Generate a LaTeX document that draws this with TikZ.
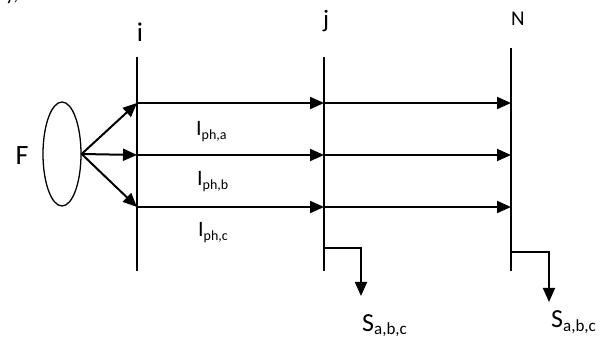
\documentclass[tikz,border=0pt]{standalone}
\usepackage{fontspec}
\setmainfont{Carlito}
\usetikzlibrary{arrows.meta,shapes.geometric}

% text with a lowered, smaller index
\newcommand{\idxlabel}[4]{{\fontsize{#3}{#3}\selectfont #1}{\fontsize{#4}{#4}\selectfont\raisebox{-0.22em}{#2}}}

\tikzset{
  bus/.style={line width=1.6pt},
  feeder/.style={line width=2pt, -{Triangle[length=14pt,width=12pt]}},
  loadline/.style={line width=1.8pt, -{Triangle[length=14pt,width=12pt]}},
  lbl/.style={inner sep=0pt, anchor=base}
}

\begin{document}
\begin{tikzpicture}[x=1pt,y=-1pt]
  \useasboundingbox (0,0) rectangle (603,339);

  % lower edge of the preceding line of text
  \node[lbl] (rem) at (12,1) {\fontsize{20}{20}\selectfont y,};

  % bus bars
  \coordinate (iTop) at (137,57);  \coordinate (iBot) at (137,271);
  \coordinate (jTop) at (324,57);  \coordinate (jBot) at (324,271);
  \coordinate (nTop) at (511,48);  \coordinate (nBot) at (511,271);
  \draw[bus] (iTop) -- (iBot);
  \draw[bus] (jTop) -- (jBot);
  \draw[bus] (nTop) -- (nBot);

  % bus names
  \node[lbl] (iName) at (140,42) {\fontsize{27}{27}\selectfont i};
  \node[lbl] (jName) at (326,28) {\fontsize{25}{25}\selectfont j};
  \node[lbl] (nName) at (518,26) {\fontsize{21}{21}\selectfont N};

  % source
  \node[draw, line width=1.3pt, ellipse, minimum width=38pt, minimum height=104pt, inner sep=0pt] (src) at (62,154) {};
  \node[lbl] (fName) at (22,165) {\fontsize{28}{28}\selectfont F};

  % junctions on the buses
  \coordinate (ia) at (137,103); \coordinate (ib) at (137,155); \coordinate (ic) at (137,207);
  \coordinate (ja) at (324,103); \coordinate (jb) at (324,155); \coordinate (jc) at (324,207);
  \coordinate (na) at (511,103); \coordinate (nb) at (511,155); \coordinate (nc) at (511,207);

  % source to bus i
  \draw[feeder] (src.east) -- (ia);
  \draw[feeder] (src.east) -- (ib);
  \draw[feeder] (src.east) -- (ic);

  % phase flows i -> j -> N
  \foreach \p in {a,b,c}{
    \draw[feeder] (i\p) -- (j\p);
    \draw[feeder] (j\p) -- (n\p);
  }

  % phase current labels
  \node[lbl, anchor=base west] (Ia) at (196,136) {\idxlabel{I}{ph,a}{22}{14}};
  \node[lbl, anchor=base west] (Ib) at (197,186) {\idxlabel{I}{ph,b}{22}{14}};
  \node[lbl, anchor=base west] (Ic) at (198,237) {\idxlabel{I}{ph,c}{22}{14}};

  % loads
  \coordinate (jTap) at (324,248); \coordinate (jCorner) at (361,248); \coordinate (jLoad) at (361,296);
  \coordinate (nTap) at (511,252); \coordinate (nCorner) at (549,252); \coordinate (nLoad) at (549,302);
  \draw[loadline] (jTap) -- (jCorner) -- (jLoad);
  \draw[loadline] (nTap) -- (nCorner) -- (nLoad);

  \node[lbl, anchor=base west] (Sj) at (362,331) {\idxlabel{S}{a,b,c}{26}{17}};
  \node[lbl, anchor=base west] (Sn) at (551,328) {\idxlabel{S}{a,b,c}{26}{17}};
\end{tikzpicture}
\end{document}
